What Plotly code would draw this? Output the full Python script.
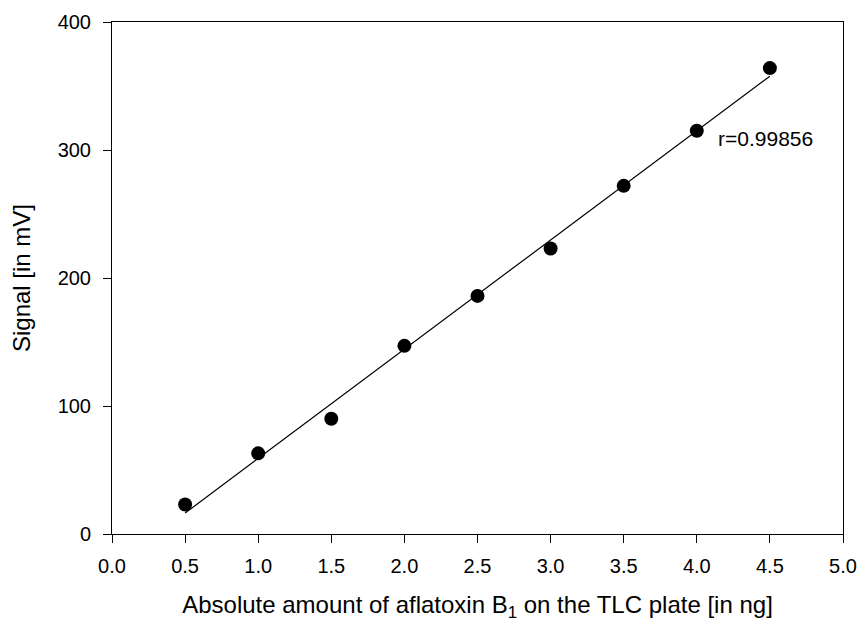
import numpy as np
import plotly.graph_objects as go

# Calibration data: aflatoxin B1 amount vs. densitometric signal
amount_ng = [0.5, 1.0, 1.5, 2.0, 2.5, 3.0, 3.5, 4.0, 4.5]
signal_mv = [23, 63, 90, 147, 186, 223, 272, 315, 364]
x_ticks = [0.0, 0.5, 1.0, 1.5, 2.0, 2.5, 3.0, 3.5, 4.0, 4.5, 5.0]
y_ticks = [0, 100, 200, 300, 400]
r_label = "r=0.99856"

# Least-squares regression line over the measured range
slope, intercept = np.polyfit(amount_ng, signal_mv, 1)
fit_x = [amount_ng[0], amount_ng[-1]]
fit_y = [slope * v + intercept for v in fit_x]

fig = go.Figure()
fig.add_trace(go.Scatter(x=fit_x, y=fit_y, mode="lines",
                         line=dict(color="black", width=1.2), showlegend=False))
fig.add_trace(go.Scatter(x=amount_ng, y=signal_mv, mode="markers",
                         marker=dict(color="black", size=14), showlegend=False))

fig.add_annotation(x=4.13, y=309, text=r_label, showarrow=False,
                   xanchor="left", yanchor="middle",
                   font=dict(size=21, color="black"))

font_family = "Liberation Sans, Arial, sans-serif"
fig.update_layout(
    width=859, height=622,
    margin=dict(l=112, r=16, t=22, b=88),
    paper_bgcolor="white", plot_bgcolor="white",
    font=dict(family=font_family, size=20, color="black"),
    xaxis=dict(range=[0, 5], tickvals=x_ticks,
               ticktext=[f"{v:.1f}" for v in x_ticks],
               ticks="outside", ticklen=8, tickwidth=1, tickcolor="black",
               ticklabelstandoff=6, automargin=False,
               showline=True, linecolor="black", linewidth=1, mirror=True,
               showgrid=False, zeroline=False,
               title=dict(text="Absolute amount of aflatoxin B<sub>1</sub> on the TLC plate [in ng]",
                          font=dict(size=24), standoff=27)),
    yaxis=dict(range=[0, 400], tickvals=y_ticks,
               ticks="outside", ticklen=8, tickwidth=1, tickcolor="black",
               ticklabelstandoff=8, automargin=False,
               showline=True, linecolor="black", linewidth=1, mirror=True,
               showgrid=False, zeroline=False,
               title=dict(text="Signal [in mV]", font=dict(size=24), standoff=20)),
)

fig.write_html("out.html")
